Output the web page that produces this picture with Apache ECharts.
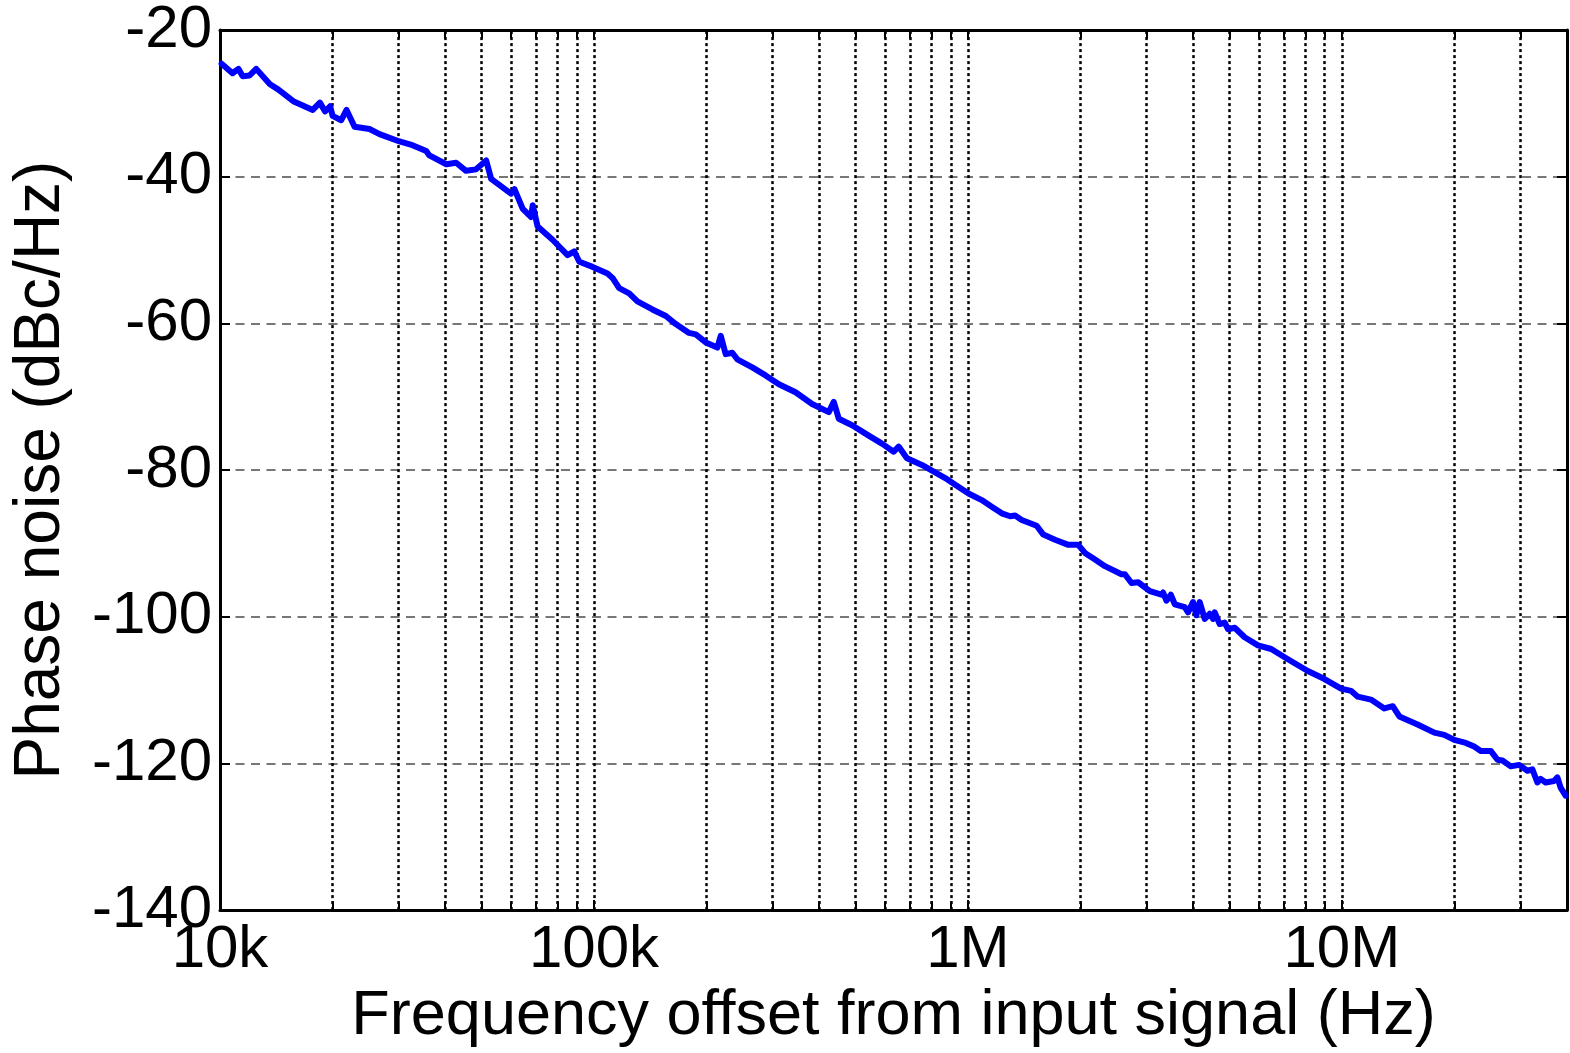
<!DOCTYPE html>
<html>
<head>
<meta charset="utf-8">
<script src="https://cdn.jsdelivr.net/npm/echarts@6/dist/echarts.min.js"></script>
<style>
  html, body { margin: 0; padding: 0; background: #fff; width: 100%; height: 100%; overflow: hidden; }
  #chart { width: 100%; height: 100%; }
</style>
</head>
<body>
<div id="chart"></div>
<script>
  // frequency offset (Hz)
  var freqHz = [
    10.1e3, 10.8e3, 11.2e3, 11.5e3, 12.0e3, 12.5e3, 13.6e3, 14.3e3, 15.7e3, 17.7e3,
    18.5e3, 19.1e3, 19.7e3, 20.0e3, 21.1e3, 21.8e3, 22.9e3, 25.1e3, 26.7e3, 30.2e3,
    32.7e3, 35.6e3, 36.3e3, 40.3e3, 42.8e3, 45.5e3, 48.4e3, 51.5e3, 53.1e3, 60.0e3,
    61.3e3, 64.5e3, 67.9e3, 68.6e3, 70.7e3, 77.5e3, 85.0e3, 88.6e3, 91.4e3, 99.2e3,
    108.7e3, 112.1e3, 116.8e3, 124.2e3, 130.7e3, 143.3e3, 155.7e3, 165.5e3, 179.6e3, 187.2e3,
    199.1e3, 213.8e3, 218.3e3, 225.1e3, 234.4e3, 241.7e3, 265.1e3, 287.7e3, 312.3e3, 346.0e3,
    383.2e3, 424.6e3, 437.8e3, 451.5e3, 490.1e3, 542.9e3, 589.1e3, 633.1e3, 652.9e3, 687.0e3,
    753.2e3, 869.6e3, 924.9e3, 1.004e6,
    1.089e6, 1.158e6, 1.232e6, 1.297e6, 1.337e6, 1.393e6, 1.527e6, 1.591e6, 1.710e6, 1.856e6,
    1.973e6, 2.056e6, 2.187e6, 2.325e6, 2.574e6, 2.629e6, 2.738e6, 2.853e6, 3.066e6, 3.293e6,
    3.327e6, 3.395e6, 3.488e6, 3.575e6, 3.801e6, 3.879e6, 3.999e6, 4.082e6, 4.168e6, 4.298e6,
    4.432e6, 4.524e6, 4.571e6, 4.713e6, 4.861e6, 4.961e6, 5.169e6, 5.496e6, 5.965e6, 6.473e6,
    7.173e6, 8.110e6, 8.988e6, 9.952e6,
    10.58e6, 11.03e6, 11.96e6, 12.99e6, 13.68e6, 14.25e6, 15.94e6, 17.67e6, 18.79e6, 19.98e6,
    21.45e6, 22.58e6, 23.52e6, 25.01e6, 26.07e6, 26.88e6, 28.29e6, 29.79e6, 31.34e6, 32.32e6,
    33.33e6, 34.01e6, 35.08e6, 36.93e6, 37.70e6, 38.46e6, 39.66e6
  ]

  // phase noise (dBc/Hz)
  var phaseNoise = [
    -24.6, -25.9, -25.3, -26.3, -26.2, -25.3, -27.4, -28.1, -29.7, -30.9,
    -29.9, -31.1, -30.4, -31.7, -32.3, -30.9, -33.2, -33.5, -34.2, -35.2,
    -35.7, -36.5, -37.1, -38.3, -38.1, -39.2, -39.0, -37.8, -40.3, -42.3,
    -41.7, -44.4, -45.5, -43.9, -46.8, -48.6, -50.7, -50.2, -51.6, -52.3,
    -53.2, -53.8, -55.2, -55.9, -57.0, -58.1, -59.0, -60.1, -61.3, -61.5,
    -62.6, -63.3, -61.7, -64.2, -64.0, -64.9, -66.0, -67.1, -68.3, -69.4,
    -71.0, -72.1, -70.7, -73.0, -73.9, -75.3, -76.4, -77.5, -76.8, -78.4,
    -79.3, -81.1, -82.0, -83.2,
    -84.1, -85.0, -85.9, -86.3, -86.2, -86.8, -87.6, -88.8, -89.5, -90.2,
    -90.2, -91.3, -92.2, -93.1, -94.2, -94.2, -95.4, -95.3, -96.5, -97.0,
    -96.7, -97.8, -97.0, -98.3, -98.7, -99.4, -98.0, -99.8, -98.0, -100.3,
    -99.6, -100.3, -99.4, -101.0, -100.8, -101.7, -101.5, -102.8, -103.9, -104.4,
    -105.8, -107.4, -108.5, -109.8,
    -110.1, -110.9, -111.3, -112.5, -112.2, -113.6, -114.7, -115.8, -116.1, -116.8,
    -117.2, -117.7, -118.3, -118.3, -119.5, -119.6, -120.4, -120.2, -121.0, -120.8,
    -122.6, -122.1, -122.6, -122.4, -121.9, -123.3, -124.4
  ]

  // vertical grid lines (2..9 multiples and decades)
  var gridFreqs = [
    2e4, 3e4, 4e4, 5e4, 6e4, 7e4, 8e4, 9e4, 1e5,
    2e5, 3e5, 4e5, 5e5, 6e5, 7e5, 8e5, 9e5, 1e6,
    2e6, 3e6, 4e6, 5e6, 6e6, 7e6, 8e6, 9e6, 1e7,
    2e7, 3e7
  ]

  var xTickNames = { 4: '10k', 5: '100k', 6: '1M', 7: '10M' }

  var xMin = 1e4
  var xMax = 4e7
  var yMin = -140
  var yMax = -20
  var yStep = 20

  var chart = echarts.init(document.getElementById('chart'))

  var fontFamily = '"Liberation Sans", Arial, sans-serif'
  var axisLine = { lineStyle: { color: '#000', width: 3 } }
  var tickLen = 10
  var minorTickDb = 1.2

  var gridLineData = gridFreqs.map(function (f) { return { xAxis: f } })
  var minorTickData = []
  gridFreqs.forEach(function (f) {
    minorTickData.push([{ coord: [f, yMin] }, { coord: [f, yMin + minorTickDb] }])
    minorTickData.push([{ coord: [f, yMax] }, { coord: [f, yMax - minorTickDb] }])
  })

  var option = {
    animation: false,
    backgroundColor: '#fff',
    textStyle: { fontFamily: fontFamily },
    grid: { left: 220, right: 0, top: 30, bottom: 135, containLabel: false },
    xAxis: [{
      type: 'log',
      logBase: 10,
      min: xMin,
      max: xMax,
      position: 'bottom',
      name: 'Frequency offset from input signal (Hz)',
      nameLocation: 'middle',
      nameGap: 70,
      nameTextStyle: { fontSize: 63, color: '#000', fontFamily: fontFamily },
      axisLine: axisLine,
      axisTick: { inside: true, length: tickLen, lineStyle: { color: '#000', width: 2 } },
      axisLabel: {
        fontSize: 60,
        color: '#000',
        margin: 10,
        fontFamily: fontFamily,
        formatter: function (v) {
          var p = Math.round(Math.log10(v))
          if (Math.abs(Math.log10(v) - p) > 1e-6) return ''
          return xTickNames[p] || ''
        }
      },
      splitLine: { show: false }
    }, {
      type: 'log',
      logBase: 10,
      min: xMin,
      max: xMax,
      position: 'top',
      axisLine: axisLine,
      axisTick: { inside: true, length: tickLen, lineStyle: { color: '#000', width: 2 } },
      axisLabel: { show: false },
      splitLine: { show: false }
    }],
    yAxis: [{
      type: 'value',
      min: yMin,
      max: yMax,
      interval: yStep,
      position: 'left',
      name: 'Phase noise (dBc/Hz)',
      nameLocation: 'middle',
      nameRotate: 90,
      nameGap: 147,
      nameTextStyle: { fontSize: 64, color: '#000', fontFamily: fontFamily },
      axisLine: axisLine,
      axisTick: { inside: true, length: tickLen, lineStyle: { color: '#000', width: 2 } },
      axisLabel: { fontSize: 60, color: '#000', margin: 8, fontFamily: fontFamily },
      splitLine: { show: true, lineStyle: { color: '#777', width: 2, type: [9, 6.5] } }
    }, {
      type: 'value',
      min: yMin,
      max: yMax,
      interval: yStep,
      position: 'right',
      axisLine: axisLine,
      axisTick: { inside: true, length: tickLen, lineStyle: { color: '#000', width: 2 } },
      axisLabel: { show: false },
      splitLine: { show: false }
    }],
    series: [{
      name: 'grid',
      type: 'line',
      data: [],
      silent: true,
      markLine: {
        silent: true,
        symbol: 'none',
        label: { show: false },
        lineStyle: { color: '#000', width: 2.5, type: [3, 3] },
        data: gridLineData
      },
      z: 1
    }, {
      name: 'ticks',
      type: 'line',
      data: [],
      silent: true,
      markLine: {
        silent: true,
        symbol: 'none',
        label: { show: false },
        lineStyle: { color: '#000', width: 2, type: 'solid' },
        data: minorTickData
      },
      z: 2
    }, {
      name: 'Phase noise',
      type: 'line',
      data: freqHz.map(function (f, i) { return [f, phaseNoise[i]] }),
      showSymbol: false,
      lineStyle: { color: '#0000ff', width: 6, join: 'round', cap: 'round' },
      itemStyle: { color: '#0000ff' },
      z: 5
    }]
  }

  chart.setOption(option)
</script>
</body>
</html>
